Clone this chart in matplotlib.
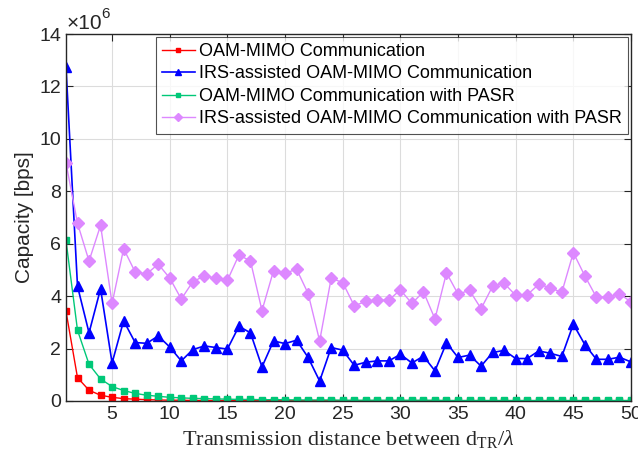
import matplotlib

matplotlib.use("Agg")
import matplotlib.pyplot as plt
import numpy as np

# distance index d_TR / lambda
distance = list(range(1, 51))

# capacity values in units of 1e6 bps
oam_mimo = [3.43, 0.89, 0.41, 0.22, 0.14, 0.09, 0.07, 0.05, 0.04, 0.03,
            0.03, 0.02, 0.02, 0.02, 0.02, 0.01, 0.01, 0.01, 0.01, 0.01,
            0.01, 0.01, 0.01, 0.01, 0.01, 0.01, 0.01, 0.01, 0.01, 0.01,
            0.01, 0.01, 0.01, 0.01, 0.01, 0.01, 0.01, 0.01, 0.01, 0.01,
            0.01, 0.01, 0.01, 0.01, 0.01, 0.01, 0.01, 0.01, 0.01, 0.01]
irs_oam = [12.75, 4.38, 2.60, 4.28, 1.45, 3.06, 2.23, 2.20, 2.48, 2.06,
           1.53, 1.96, 2.10, 2.04, 1.98, 2.85, 2.60, 1.30, 2.29, 2.19,
           2.32, 1.66, 0.76, 2.04, 1.94, 1.36, 1.48, 1.53, 1.53, 1.78,
           1.45, 1.71, 1.15, 2.22, 1.66, 1.75, 1.33, 1.85, 1.93, 1.62,
           1.62, 1.91, 1.82, 1.70, 2.93, 2.15, 1.59, 1.59, 1.67, 1.49]
oam_pasr = [6.13, 2.70, 1.40, 0.84, 0.55, 0.40, 0.29, 0.22, 0.18, 0.14,
            0.12, 0.10, 0.09, 0.08, 0.07, 0.06, 0.06, 0.05, 0.05, 0.05,
            0.04, 0.04, 0.04, 0.04, 0.03, 0.03, 0.03, 0.03, 0.03, 0.03,
            0.03, 0.03, 0.03, 0.02, 0.02, 0.02, 0.02, 0.02, 0.02, 0.02,
            0.02, 0.02, 0.02, 0.02, 0.02, 0.02, 0.02, 0.02, 0.02, 0.02]
irs_pasr = [9.09, 6.78, 5.34, 6.70, 3.72, 5.81, 4.92, 4.85, 5.22, 4.69,
            3.89, 4.55, 4.77, 4.69, 4.60, 5.57, 5.34, 3.45, 4.97, 4.87,
            5.03, 4.10, 2.29, 4.68, 4.52, 3.63, 3.80, 3.85, 3.85, 4.24,
            3.72, 4.17, 3.13, 4.89, 4.08, 4.22, 3.52, 4.38, 4.49, 4.03,
            4.05, 4.45, 4.32, 4.14, 5.66, 4.77, 3.96, 3.96, 4.09, 3.78]

labels = [
    "OAM-MIMO Communication",
    "IRS-assisted OAM-MIMO Communication",
    "OAM-MIMO Communication with PASR",
    "IRS-assisted OAM-MIMO Communication with PASR",
]

plt.rcParams["font.family"] = ["Liberation Sans", "DejaVu Sans"]
plt.rcParams["mathtext.fontset"] = "custom"
plt.rcParams["mathtext.rm"] = "Liberation Serif"
plt.rcParams["mathtext.it"] = "Liberation Serif:italic"

fig = plt.figure(figsize=(6.38, 4.66), dpi=100)
ax = fig.add_axes([0.1034, 0.1395, 0.8856, 0.7875])

scale = 1e6
x = np.array(distance)
ax.plot(x, np.array(oam_mimo) * scale, color="#ff0000", marker="s",
        markersize=5, lw=1.0, label=labels[0])
ax.plot(x, np.array(irs_oam) * scale, color="#0000ff", marker="^",
        markersize=7, lw=1.2, label=labels[1])
ax.plot(x, np.array(oam_pasr) * scale, color="#00c878", marker="s",
        markersize=5, lw=1.0, label=labels[2])
ax.plot(x, np.array(irs_pasr) * scale, color="#dd88ff", marker="D",
        markersize=6, lw=1.0, label=labels[3])

ax.set_xlim(1, 50)
ax.set_ylim(0, 14e6)
ax.set_xticks(range(5, 51, 5))
ax.set_yticks(np.arange(0, 14.1e6, 2e6))
ax.set_yticklabels([str(v) for v in range(0, 15, 2)])
# MATLAB-style exponent label above the y axis
fig.text(0.104, 0.938, "\u00d710", fontsize=15, color="#262626",
         ha="left", va="baseline")
fig.text(0.158, 0.962, "6", fontsize=11, color="#262626",
         ha="left", va="baseline")
ax.grid(True, color="#dcdcdc", lw=0.8)
ax.set_axisbelow(True)
ax.tick_params(direction="in", labelsize=14, top=True, right=True,
               length=5, color="#262626", labelcolor="#262626")
for s in ax.spines.values():
    s.set_color("#262626")
    s.set_linewidth(1.0)

ax.set_ylabel("Capacity [bps]", fontsize=15, color="#262626", labelpad=4)
ax.set_xlabel(r"Transmission distance between d$_{\mathrm{TR}}/\lambda$",
              fontsize=16, fontfamily="Liberation Serif", color="#262626",
              labelpad=4)

leg = ax.legend(loc="upper right", fontsize=13, frameon=True,
                fancybox=False, edgecolor="#262626", borderpad=0.35,
                labelspacing=0.3, handlelength=1.8, handletextpad=0.25,
                borderaxespad=0.15, markerscale=0.7)
leg.get_frame().set_linewidth(0.8)

fig.savefig("out.png", dpi=100)
